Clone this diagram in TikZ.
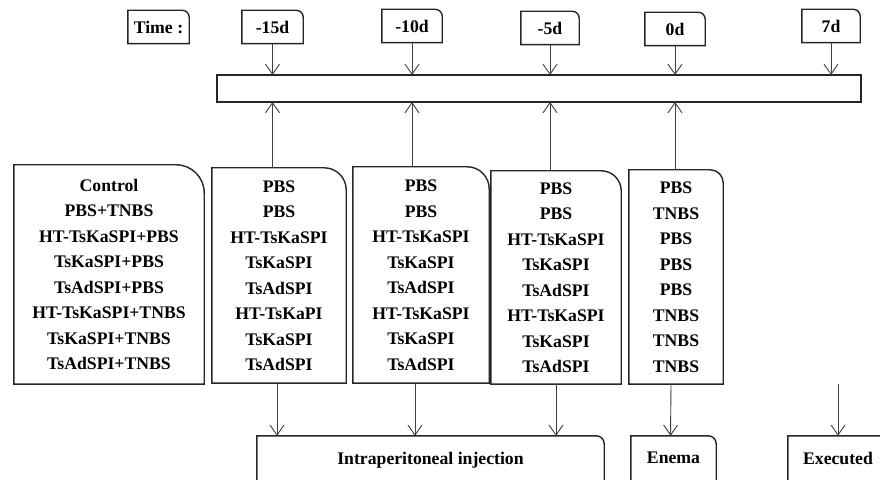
\documentclass[tikz,border=0pt]{standalone}
\usepackage{fontspec}
\setmainfont{Liberation Serif}
\usetikzlibrary{arrows.meta}

% box with only the top right corner rounded
\newcommand{\cornerbox}[2]{%
  \draw[boxline] (#1.south west) -- (#1.north west) -- ([xshift=-#2]#1.north east)
    arc[start angle=90,end angle=0,radius=#2] -- (#1.south east) -- cycle;}

\begin{document}
\begin{tikzpicture}[x=1pt,y=1pt,
  boxline/.style={line width=1.4pt,black!85},
  lbl/.style={inner sep=0pt,align=center,font=\fontsize{17.7}{25.5}\selectfont\bfseries},
  timebox/.style={lbl,minimum height=33pt},
  arr/.style={-{Straight Barb[length=10pt,width=14pt]},line width=0.9pt,black!75}]

\useasboundingbox (0,0) rectangle (880,479);

% time line
\node[timebox,minimum width=61pt] (time) at (158.5,452) {Time :};
\node[timebox,minimum width=61pt] (t15) at (272.5,452) {-15d};
\node[timebox,minimum width=60pt] (t10) at (412,453) {-10d};
\node[timebox,minimum width=58pt] (t5) at (550,451) {-5d};
\node[timebox,minimum width=60pt] (t0) at (675,450) {0d};
\node[timebox,minimum width=58pt] (t7) at (831,453) {7d};
\draw[boxline] (217,377) rectangle (861,404);
\coordinate (bar) at (539,404);
\coordinate (barlow) at (539,377);

% groups
\node[lbl,minimum width=190pt,minimum height=219pt] (ctrl) at (109,204.5)
  {Control\\PBS+TNBS\\HT-TsKaSPI+PBS\\TsKaSPI+PBS\\TsAdSPI+PBS\\HT-TsKaSPI+TNBS\\TsKaSPI+TNBS\\TsAdSPI+TNBS};
\node[lbl,minimum width=134pt,minimum height=215pt] (g15) at (279,203.5)
  {PBS\\PBS\\HT-TsKaSPI\\TsKaSPI\\TsAdSPI\\HT-TsKaPI\\TsKaSPI\\TsAdSPI};
\node[lbl,minimum width=136pt,minimum height=216pt] (g10) at (421,204)
  {PBS\\PBS\\HT-TsKaSPI\\TsKaSPI\\TsAdSPI\\HT-TsKaSPI\\TsKaSPI\\TsAdSPI};
\node[lbl,minimum width=130pt,minimum height=213pt] (g5) at (556,201.5)
  {PBS\\PBS\\HT-TsKaSPI\\TsKaSPI\\TsAdSPI\\HT-TsKaSPI\\TsKaSPI\\TsAdSPI};
\node[lbl,minimum width=94pt,minimum height=214pt] (g0) at (676,202)
  {PBS\\TNBS\\PBS\\PBS\\PBS\\TNBS\\TNBS\\TNBS};

% treatments
\node[lbl,minimum width=347pt,minimum height=50pt] (ip) at (430.5,18) {\raisebox{6pt}{Intraperitoneal injection}};
\node[lbl,minimum width=85pt,minimum height=50pt] (enema) at (673.5,18) {\raisebox{6pt}{Enema}};
\node[lbl,minimum width=100pt,minimum height=50pt] (exec) at (838,18) {\raisebox{6pt}{Executed}};

\cornerbox{time}{7pt}
\cornerbox{t15}{7pt}
\cornerbox{t10}{7pt}
\cornerbox{t5}{7pt}
\cornerbox{t0}{7pt}
\cornerbox{t7}{7pt}
\cornerbox{ctrl}{28pt}
\cornerbox{g15}{22pt}
\cornerbox{g10}{22pt}
\cornerbox{g5}{20pt}
\cornerbox{g0}{13pt}
\cornerbox{ip}{8pt}
\cornerbox{enema}{8pt}
\cornerbox{exec}{8pt}

% arrows
\foreach \t in {t15,t10,t5,t0,t7}
  \draw[arr] (\t.south) -- (\t.south |- bar);
\foreach \g/\t in {g15/t15,g10/t10,g5/t5,g0/t0}
  \draw[arr] (\g.north -| \t) -- (barlow -| \t);
\draw[arr] ([xshift=-2pt]g15.south) -- ([xshift=-2pt]g15.south |- ip.north);
\draw[arr] ([xshift=-6pt]g10.south) -- ([xshift=-6pt]g10.south |- ip.north);
\draw[arr] (g5.south) -- (g5.south |- ip.north);
\draw[arr] ([xshift=-5pt]g0.south) -- ([xshift=-3pt]enema.north);
\coordinate (done) at (exec.north |- g0.south);
\draw[arr] (done) -- (exec.north);
\end{tikzpicture}
\end{document}
